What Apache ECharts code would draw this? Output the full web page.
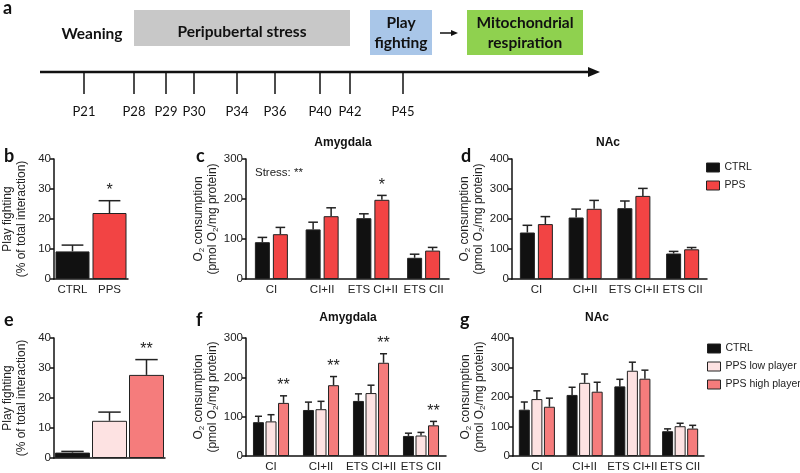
<!DOCTYPE html>
<html><head><meta charset="utf-8">
<script src="https://cdn.jsdelivr.net/npm/echarts@6/dist/echarts.min.js"></script>
<style>html,body{margin:0;padding:0;background:#fff}#main{width:800px;height:473px}</style>
</head><body><div id="main"></div>
<script>
// timeline ticks (panel a)
var days = ['P21', 'P28', 'P29', 'P30', 'P34', 'P36', 'P40', 'P42', 'P45'];
var dayX = [84, 134, 166, 194, 237, 275, 320, 350, 403];

// categories
var groups2 = ['CTRL', 'PPS'];
var groups3 = ['CTRL', 'PPS low player', 'PPS high player'];
var resp = ['CI', 'CI+II', 'ETS CI+II', 'ETS CII'];

// panel b
var bVal = [9.2, 22], bErr = [11.3, 26.1], bStar = ['', '*'];
// panel c (amygdala)
var cCtrl = [92, 124, 152, 53], cCtrlE = [104, 142, 163, 62];
var cPps = [112, 157, 198, 71], cPpsE = [129, 178, 209, 79];
var cStar = ['', '', '*', ''];
// panel d (NAc)
var dCtrl = [155, 205, 236, 85], dCtrlE = [179, 233, 260, 92];
var dPps = [183, 234, 277, 99], dPpsE = [208, 262, 302, 105];
// panel e
var eVal = [1.8, 12.4, 27.7], eErr = [2.2, 15.3, 32.8], eStar = ['', '', '**'];
// panel f (amygdala)
var fCtrl = [86, 117, 140, 51], fCtrlE = [101, 137, 158, 58];
var fLow = [88, 119, 160, 52], fLowE = [105, 139, 180, 60];
var fHigh = [135, 180, 237, 78], fHighE = [153, 202, 260, 88];
var fStar = ['**', '**', '**', '**'];
// panel g (NAc)
var gCtrl = [157, 207, 236, 84], gCtrlE = [183, 233, 260, 92];
var gLow = [193, 248, 289, 101], gLowE = [221, 278, 318, 111];
var gHigh = [167, 218, 262, 93], gHighE = [196, 250, 291, 104];

var COL = { CTRL: '#111', PPS: '#f24444', 'PPS low player': '#fde2e2', 'PPS high player': '#f57c7c' };
var FONT = 'Liberation Sans';

var chart = echarts.init(document.getElementById('main'));

var grids = [
  { left: 50, width: 78, top: 159, height: 120 },
  { left: 246, width: 203, top: 159, height: 120 },
  { left: 512, width: 195, top: 159, height: 120 },
  { left: 50, width: 115, top: 338, height: 120 },
  { left: 246, width: 200, top: 338, height: 120 },
  { left: 513, width: 191, top: 338, height: 120 }
];

function yAx(gi, max, interval, name) {
  return {
    type: 'value', gridIndex: gi, min: 0, max: max, interval: interval,
    axisLine: { show: true, lineStyle: { color: '#111', width: 1.5 } },
    axisTick: { show: true, length: 4, lineStyle: { color: '#111', width: 1.5 } },
    splitLine: { show: false },
    axisLabel: { color: '#222', fontSize: 11.5, fontFamily: FONT, margin: 3 },
    name: name, nameLocation: 'middle', nameRotate: 90, nameGap: 25,
    nameTextStyle: {
      color: '#222', fontSize: 12, fontFamily: FONT, lineHeight: 14,
      rich: { s: { fontSize: 8, verticalAlign: 'bottom', padding: [6, 0, 0, 0], fontFamily: FONT, color: '#222' } }
    }
  };
}
function xAx(gi, cats, showLabel) {
  return {
    type: 'category', gridIndex: gi, data: cats,
    axisLine: { lineStyle: { color: '#111', width: 1.5 } },
    axisTick: { alignWithLabel: true, length: 4, lineStyle: { color: '#111', width: 1.5 } },
    axisLabel: { show: showLabel, interval: 0, color: '#222', fontSize: 11.5, fontFamily: FONT, margin: 5 }
  };
}

var pfName = 'Play fighting\n(% of total interaction)';
var o2Name = 'O{s|2} consumption\n(pmol O{s|2}/mg protein)';

var series = [];
function bars(name, vals, axIdx, barW, gap) {
  series.push({
    type: 'bar', name: name, xAxisIndex: axIdx, yAxisIndex: axIdx,
    data: vals, barWidth: barW, barGap: gap,
    itemStyle: { color: COL[name] || '#111', borderColor: '#222', borderWidth: 1 },
    silent: true
  });
}
function errs(vals, tops, stars, axIdx, sIdx, n, barW, gapRatio) {
  series.push({
    type: 'custom', xAxisIndex: axIdx, yAxisIndex: axIdx, z: 5, silent: true,
    data: vals.map(function (v, i) { return [i, v, tops[i]]; }),
    renderItem: function (params, api) {
      var p = api.coord([api.value(0), api.value(1)]);
      var t = api.coord([api.value(0), api.value(2)]);
      var x = p[0] + (sIdx - (n - 1) / 2) * barW * (1 + gapRatio);
      var cw = barW * 0.32;
      var ch = [
        { type: 'line', shape: { x1: x, y1: p[1], x2: x, y2: t[1] }, style: { stroke: '#222', lineWidth: 1.5 } },
        { type: 'line', shape: { x1: x - cw, y1: t[1], x2: x + cw, y2: t[1] }, style: { stroke: '#222', lineWidth: 1.5 } }
      ];
      var s = stars ? stars[params.dataIndex] : '';
      if (s) ch.push({ type: 'text', style: { text: s, x: x, y: t[1] - 2, align: 'center', verticalAlign: 'bottom', fontSize: 16, fontFamily: FONT, fill: '#222' } });
      return { type: 'group', children: ch };
    }
  });
}

// b
series.push({
  type: 'bar', xAxisIndex: 0, yAxisIndex: 0, barWidth: 34, silent: true,
  data: bVal.map(function (v, i) { return { value: v, itemStyle: { color: COL[groups2[i]] } }; }),
  itemStyle: { borderColor: '#222', borderWidth: 1 }
});
errs(bVal, bErr, bStar, 0, 0, 1, 34, 0);
// c
bars('CTRL', cCtrl, 1, 15, '20%'); bars('PPS', cPps, 1, 15, '20%');
errs(cCtrl, cCtrlE, null, 1, 0, 2, 15, 0.2); errs(cPps, cPpsE, cStar, 1, 1, 2, 15, 0.2);
// d
bars('CTRL', dCtrl, 2, 15, '20%'); bars('PPS', dPps, 2, 15, '20%');
errs(dCtrl, dCtrlE, null, 2, 0, 2, 15, 0.2); errs(dPps, dPpsE, null, 2, 1, 2, 15, 0.2);
// e
series.push({
  type: 'bar', xAxisIndex: 3, yAxisIndex: 3, barWidth: 35, silent: true,
  data: eVal.map(function (v, i) { return { value: v, itemStyle: { color: COL[groups3[i]] } }; }),
  itemStyle: { borderColor: '#222', borderWidth: 1 }
});
errs(eVal, eErr, eStar, 3, 0, 1, 35, 0);
// f
bars('CTRL', fCtrl, 4, 11, '14%'); bars('PPS low player', fLow, 4, 11, '14%'); bars('PPS high player', fHigh, 4, 11, '14%');
errs(fCtrl, fCtrlE, null, 4, 0, 3, 11, 0.14); errs(fLow, fLowE, null, 4, 1, 3, 11, 0.14); errs(fHigh, fHighE, fStar, 4, 2, 3, 11, 0.14);
// g
bars('CTRL', gCtrl, 5, 11, '14%'); bars('PPS low player', gLow, 5, 11, '14%'); bars('PPS high player', gHigh, 5, 11, '14%');
errs(gCtrl, gCtrlE, null, 5, 0, 3, 11, 0.14); errs(gLow, gLowE, null, 5, 1, 3, 11, 0.14); errs(gHigh, gHighE, null, 5, 2, 3, 11, 0.14);

// panel a timeline and panel labels
var graphics = [];
graphics.push({ type: 'rect', shape: { x: 134, y: 10, width: 216, height: 36 }, style: { fill: '#c8c8c8' } });
graphics.push({ type: 'rect', shape: { x: 370, y: 10, width: 62, height: 45 }, style: { fill: '#a9c6e8' } });
graphics.push({ type: 'rect', shape: { x: 467, y: 10, width: 116, height: 45 }, style: { fill: '#8fd14f' } });
graphics.push({ type: 'line', shape: { x1: 40, y1: 72, x2: 592, y2: 72 }, style: { stroke: '#111', lineWidth: 2.5 } });
graphics.push({ type: 'polygon', shape: { points: [[600, 72], [588, 67], [588, 77]] }, style: { fill: '#111' } });
graphics.push({ type: 'line', shape: { x1: 440, y1: 33, x2: 452, y2: 33 }, style: { stroke: '#111', lineWidth: 1.5 } });
graphics.push({ type: 'polygon', shape: { points: [[458, 33], [451, 30], [451, 36]] }, style: { fill: '#111' } });
days.forEach(function (d, i) {
  graphics.push({ type: 'line', shape: { x1: dayX[i], y1: 72, x2: dayX[i], y2: 94 }, style: { stroke: '#111', lineWidth: 1.5 } });
  graphics.push({ type: 'text', style: { text: d, x: dayX[i], y: 112, align: 'center', verticalAlign: 'middle', fontSize: 13, fontFamily: 'Lato', fill: '#111' } });
});
[['Weaning', 92, 34], ['Peripubertal stress', 242, 32], ['Play\nfighting', 401, 33], ['Mitochondrial\nrespiration', 525, 33]].forEach(function (a) {
  graphics.push({ type: 'text', style: { text: a[0], x: a[1], y: a[2], align: 'center', verticalAlign: 'middle', fontSize: 15.5, lineHeight: 20, fontWeight: 'bold', fontFamily: 'Lato', fill: '#111' } });
});
[['a', 3, 8], ['b', 4, 156], ['c', 196, 156], ['d', 461, 156], ['e', 4, 320], ['f', 196, 320], ['g', 460, 320]].forEach(function (a) {
  graphics.push({ type: 'text', style: { text: a[0], x: a[1], y: a[2], verticalAlign: 'middle', fontSize: 18, fontWeight: 'bold', fontFamily: 'Lato', fill: '#111' } });
});
[['Amygdala', 343, 143], ['NAc', 608, 143], ['Amygdala', 348, 318], ['NAc', 597, 318]].forEach(function (a) {
  graphics.push({ type: 'text', style: { text: a[0], x: a[1], y: a[2], align: 'center', verticalAlign: 'middle', fontSize: 12, fontWeight: 'bold', fontFamily: FONT, fill: '#111' } });
});
graphics.push({ type: 'text', style: { text: 'Stress: **', x: 255, y: 173, verticalAlign: 'middle', fontSize: 11.5, fontFamily: FONT, fill: '#222' } });

var legendBase = { orient: 'vertical', itemWidth: 13, itemHeight: 9, itemGap: 7, icon: 'rect', padding: 0,
  itemStyle: { borderColor: '#222', borderWidth: 1 },
  textStyle: { fontSize: 10.5, fontFamily: FONT, color: '#222' }, selectedMode: false };

chart.setOption({
  animation: false,
  grid: grids,
  xAxis: [xAx(0, groups2, true), xAx(1, resp, true), xAx(2, resp, true), xAx(3, groups3, false), xAx(4, resp, true), xAx(5, resp, true)],
  yAxis: [yAx(0, 40, 10, pfName), yAx(1, 300, 100, o2Name), yAx(2, 400, 100, o2Name),
          yAx(3, 40, 10, pfName), yAx(4, 300, 100, o2Name), yAx(5, 400, 100, o2Name)],
  legend: [
    Object.assign({ left: 706, top: 162, data: ['CTRL', 'PPS'] }, legendBase),
    Object.assign({ left: 707, top: 343, data: groups3 }, legendBase)
  ],
  graphic: graphics,
  series: series
});
</script></body></html>
